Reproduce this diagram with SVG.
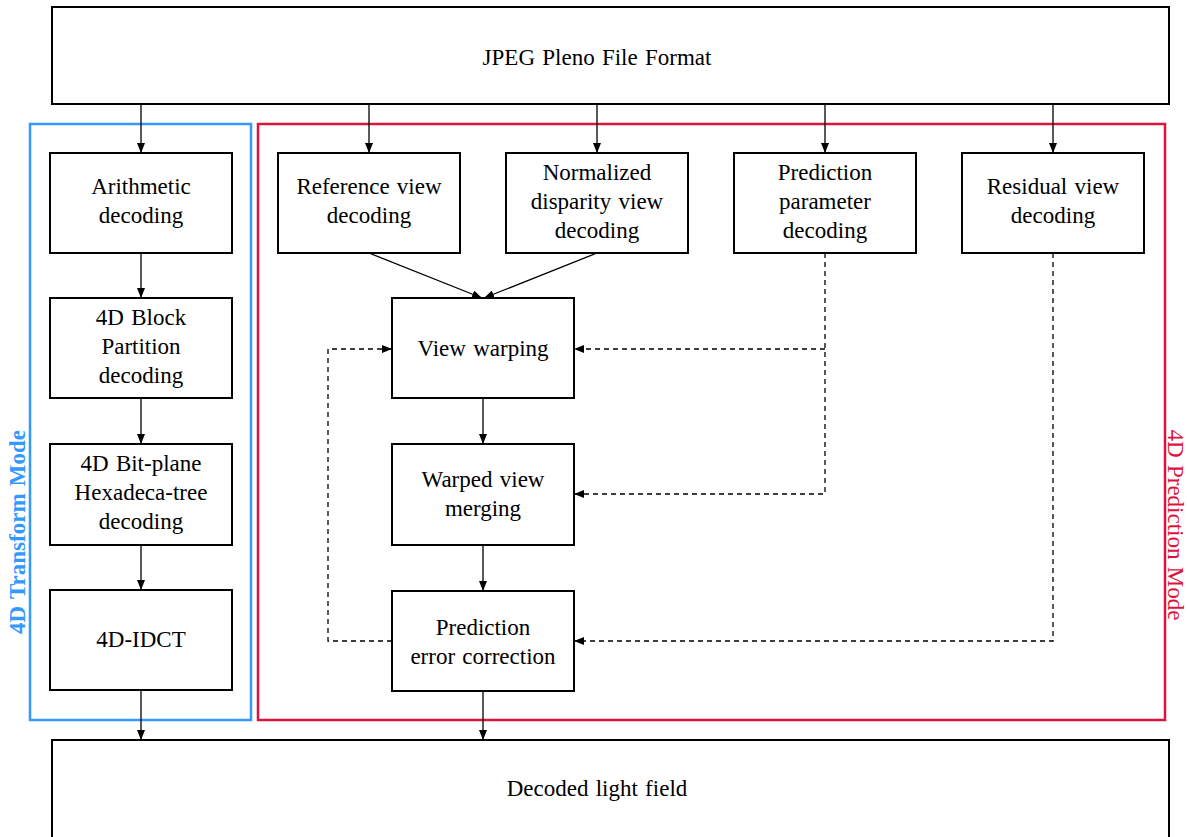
<svg xmlns="http://www.w3.org/2000/svg" width="1187" height="837" viewBox="0 0 1187 837">
<style>
.box{fill:#fff;stroke:#000;stroke-width:2}
.t{font-family:"Liberation Serif","Times New Roman",serif;font-size:23px;fill:#000;text-anchor:middle;word-spacing:1.5px}
.c{fill:none;stroke:#000;stroke-width:1.3}
.d{fill:none;stroke:#000;stroke-width:1.3;stroke-dasharray:5,4}
</style>
<defs>
<marker id="ah" viewBox="0 0 10 8" refX="10" refY="4" markerWidth="10" markerHeight="8" markerUnits="userSpaceOnUse" orient="auto">
<path d="M0,0 L10,4 L0,8 Z" fill="#000"/>
</marker>
</defs>
<rect width="1187" height="837" fill="#fff"/>
<g id="containers">
<rect x="30" y="124" width="221" height="596" fill="none" stroke="#3399ff" stroke-width="2.5"/>
<rect x="258" y="124" width="907" height="596" fill="none" stroke="#dc143c" stroke-width="2.5"/>
<text class="t" transform="translate(25,532) rotate(-90)" style="fill:#3399ff;font-weight:bold">4D Transform Mode</text>
<text class="t" transform="translate(1168,525) rotate(90)" style="fill:#dc143c">4D Prediction Mode</text>
</g>
<g id="connectors">
<path class="c" d="M141,104 V153" marker-end="url(#ah)"/>
<path class="c" d="M369,104 V153" marker-end="url(#ah)"/>
<path class="c" d="M597,104 V153" marker-end="url(#ah)"/>
<path class="c" d="M825,104 V153" marker-end="url(#ah)"/>
<path class="c" d="M1053,104 V153" marker-end="url(#ah)"/>
<path class="c" d="M141,253 V298" marker-end="url(#ah)"/>
<path class="c" d="M141,398 V444" marker-end="url(#ah)"/>
<path class="c" d="M141,545 V590" marker-end="url(#ah)"/>
<path class="c" d="M141,690 V740" marker-end="url(#ah)"/>
<path class="c" d="M369,253 L482,298" marker-end="url(#ah)"/>
<path class="c" d="M597,253 L484,298" marker-end="url(#ah)"/>
<path class="c" d="M483,398 V444" marker-end="url(#ah)"/>
<path class="c" d="M483,545 V591" marker-end="url(#ah)"/>
<path class="c" d="M483,691 V740" marker-end="url(#ah)"/>
<path class="d" d="M825,253 V494 H574" marker-end="url(#ah)"/>
<path class="d" d="M825,349 H574" marker-end="url(#ah)"/>
<path class="d" d="M1053,253 V641 H574" marker-end="url(#ah)"/>
<path class="d" d="M392,641 H328 V349 H392" marker-end="url(#ah)"/>
</g>
<g id="top"><rect class="box" x="52" y="7" width="1117" height="97"/><text class="t" x="597" y="65">JPEG Pleno File Format</text></g>
<g id="bottom"><rect class="box" x="52" y="740" width="1117" height="105"/><text class="t" x="597" y="796">Decoded light field</text></g>
<g id="arith"><rect class="box" x="50" y="153" width="182" height="100"/><text class="t" x="141" y="194">Arithmetic</text><text class="t" x="141" y="223">decoding</text></g>
<g id="block"><rect class="box" x="50" y="298" width="182" height="100"/><text class="t" x="141" y="325">4D Block</text><text class="t" x="141" y="354">Partition</text><text class="t" x="141" y="383">decoding</text></g>
<g id="bitplane"><rect class="box" x="50" y="444" width="182" height="101"/><text class="t" x="141" y="471">4D Bit-plane</text><text class="t" x="141" y="500">Hexadeca-tree</text><text class="t" x="141" y="529">decoding</text></g>
<g id="idct"><rect class="box" x="50" y="590" width="182" height="100"/><text class="t" x="141" y="647">4D-IDCT</text></g>
<g id="refview"><rect class="box" x="278" y="153" width="182" height="100"/><text class="t" x="369" y="194">Reference view</text><text class="t" x="369" y="223">decoding</text></g>
<g id="normdisp"><rect class="box" x="506" y="153" width="182" height="100"/><text class="t" x="597" y="180">Normalized</text><text class="t" x="597" y="209">disparity view</text><text class="t" x="597" y="238">decoding</text></g>
<g id="predparam"><rect class="box" x="734" y="153" width="182" height="100"/><text class="t" x="825" y="180">Prediction</text><text class="t" x="825" y="209">parameter</text><text class="t" x="825" y="238">decoding</text></g>
<g id="residual"><rect class="box" x="962" y="153" width="182" height="100"/><text class="t" x="1053" y="194">Residual view</text><text class="t" x="1053" y="223">decoding</text></g>
<g id="warp"><rect class="box" x="392" y="298" width="182" height="100"/><text class="t" x="483" y="356">View warping</text></g>
<g id="merge"><rect class="box" x="392" y="444" width="182" height="101"/><text class="t" x="483" y="487">Warped view</text><text class="t" x="483" y="516">merging</text></g>
<g id="correct"><rect class="box" x="392" y="591" width="182" height="100"/><text class="t" x="483" y="635">Prediction</text><text class="t" x="483" y="664">error correction</text></g>
</svg>
